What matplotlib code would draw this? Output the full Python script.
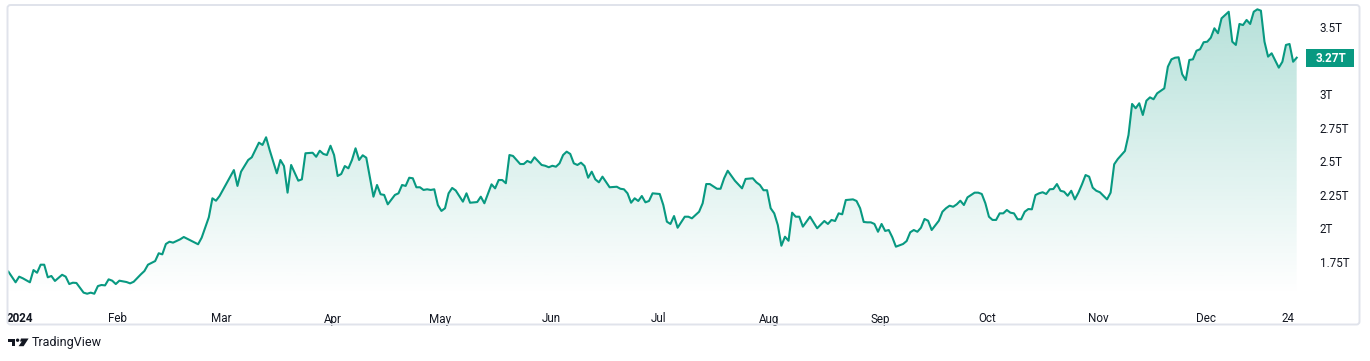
import matplotlib
matplotlib.use("Agg")
import matplotlib.pyplot as plt
import numpy as np
from matplotlib.patches import FancyBboxPatch, Polygon, Circle, Rectangle

# days since 2024-01-01 and total value (trillions)
days = [0, 2, 3, 4, 6, 7, 8, 9, 10, 11, 12, 13, 15, 16, 17, 18, 19, 21, 22, 23, 24, 25, 26, 27, 28, 29, 30,
        31, 33, 34, 35, 37, 38, 39, 41, 42, 43, 44, 45, 46, 48, 49, 53, 54, 56, 57, 58, 59,
        63, 64, 65, 67, 68, 70, 71, 72, 73, 75, 76, 77, 78, 79, 81, 82, 83, 85, 86, 87, 88, 89, 90,
        91, 92, 93, 94, 95, 96, 97, 98, 99, 100, 102, 103, 104, 105, 106, 108, 109, 110, 111, 112,
        113, 114, 115, 116, 117, 118, 119, 120, 121, 122, 123, 124, 125, 127, 128, 129, 131, 132,
        133, 135, 136, 137, 138, 139, 140, 141, 143, 144, 145, 146, 147, 149, 150, 151, 152, 153,
        154, 155, 156, 157, 158, 159, 160, 161, 162, 163, 164, 165, 166, 168, 170, 171, 172, 173,
        174, 175, 176, 177, 178, 179, 180, 182, 183, 184, 185, 186, 187, 189, 190, 191, 193, 194,
        195, 196, 198, 199, 200, 201, 203, 205, 206, 208, 209, 210, 211, 212, 213, 214, 215, 216,
        217, 218, 219, 220, 221, 222, 224, 226, 228, 229, 230, 231, 232, 233, 234, 236, 237, 238,
        239, 240, 241, 242, 243, 244, 245, 246, 247, 248, 250, 251, 252, 253, 254, 255, 256, 257,
        258, 260, 261, 262, 263, 264, 265, 266, 267, 268, 270, 271, 272, 273, 274, 275, 276, 277,
        278, 279, 280, 281, 282, 283, 284, 285, 286, 287, 288, 289, 290, 291, 292, 293, 294, 295,
        296, 297, 298, 299, 300, 301, 302, 303, 304, 305, 307, 308, 309, 310, 312, 313, 314, 315,
        316, 317, 318, 319, 320, 321, 323, 324, 325, 326, 327, 328, 329, 330, 331, 332, 333, 334,
        335, 336, 337, 338, 339, 341, 342, 343, 344, 345, 346, 347, 348, 349, 350, 351, 352, 353,
        355, 356, 357, 358, 359, 360]
values = [1.678, 1.599, 1.641, 1.629, 1.599, 1.690, 1.670, 1.730, 1.730, 1.636, 1.646, 1.609, 1.655, 1.641,
          1.586, 1.596, 1.594, 1.522, 1.514, 1.522, 1.514, 1.571, 1.579, 1.576, 1.621, 1.611, 1.586,
          1.611, 1.601, 1.591, 1.603, 1.658, 1.683, 1.730, 1.757, 1.815, 1.807, 1.884, 1.901, 1.894,
          1.919, 1.936, 1.882, 1.931, 2.083, 2.224, 2.206, 2.241,
          2.434, 2.316, 2.422, 2.509, 2.529, 2.638, 2.621, 2.678, 2.583, 2.410, 2.509, 2.464, 2.266,
          2.472, 2.355, 2.365, 2.559, 2.563, 2.533, 2.578, 2.554, 2.546, 2.615,
          2.546, 2.390, 2.405, 2.464, 2.447, 2.509, 2.596, 2.509, 2.544, 2.526, 2.236, 2.323, 2.254,
          2.249, 2.179, 2.249, 2.261, 2.323, 2.316, 2.377,
          2.373, 2.306, 2.306, 2.286, 2.291, 2.286, 2.291, 2.174, 2.130, 2.150, 2.261, 2.301, 2.282,
          2.199, 2.261, 2.191, 2.196, 2.236,
          2.187, 2.328, 2.298, 2.360, 2.360, 2.336, 2.546, 2.539, 2.479, 2.479, 2.502, 2.489, 2.529,
          2.472, 2.466, 2.455, 2.466, 2.459,
          2.484, 2.546, 2.571, 2.554, 2.484, 2.472, 2.489, 2.464, 2.377, 2.422, 2.365, 2.343, 2.385,
          2.306, 2.310, 2.295, 2.291, 2.261,
          2.191, 2.224, 2.204, 2.241, 2.194, 2.204, 2.261, 2.256, 2.174, 2.050, 2.033, 2.092, 2.005,
          2.087, 2.087, 2.075, 2.124, 2.187,
          2.330, 2.330, 2.295, 2.295, 2.373, 2.429, 2.355, 2.298, 2.368, 2.373, 2.343, 2.323, 2.284,
          2.284, 2.150, 2.112, 2.025, 1.871,
          1.938, 1.908, 2.117, 2.087, 2.087, 2.013, 2.087, 2.001, 2.055, 2.033, 2.063, 2.055, 2.112,
          2.105, 2.211, 2.216, 2.204, 2.150,
          2.048, 2.045, 2.045, 2.033, 1.975, 2.033, 1.981, 1.988, 1.934, 1.864, 1.884, 1.906, 1.971,
          1.988, 1.975, 2.005, 2.070, 2.057,
          1.988, 2.057, 2.124, 2.150, 2.169, 2.161, 2.179, 2.206, 2.174, 2.231, 2.266, 2.266, 2.256,
          2.187, 2.087, 2.063, 2.063, 2.112,
          2.112, 2.137, 2.117, 2.112, 2.068, 2.068, 2.124, 2.144, 2.142, 2.248, 2.261, 2.269, 2.256,
          2.291, 2.293, 2.330, 2.280, 2.273,
          2.243, 2.280, 2.216, 2.266, 2.328, 2.397, 2.385, 2.303, 2.280, 2.269, 2.216, 2.266, 2.477,
          2.516, 2.576, 2.695, 2.926, 2.894,
          2.931, 2.844, 2.950, 2.975, 2.961, 3.005, 3.042, 3.203, 3.258, 3.270, 3.273, 3.147, 3.104,
          3.253, 3.258, 3.322, 3.333, 3.385,
          3.389, 3.419, 3.489, 3.452, 3.563, 3.612, 3.389, 3.365, 3.521, 3.513, 3.551, 3.521, 3.612,
          3.630, 3.620, 3.389, 3.278, 3.303,
          3.196, 3.240, 3.365, 3.372, 3.240, 3.270]

tick_days = [0, 31, 60, 91, 121, 152, 182, 213, 244, 274, 305, 335, 358]
tick_labels = ["2024", "Feb", "Mar", "Apr", "May", "Jun", "Jul", "Aug", "Sep", "Oct", "Nov", "Dec", "24"]
price_ticks = [1.75, 2.0, 2.25, 2.5, 2.75, 3.0, 3.5]
price_labels = ["1.75T", "2T", "2.25T", "2.5T", "2.75T", "3T", "3.5T"]
last_label = "3.27T"

plt.rcParams["font.family"] = ["Roboto", "DejaVu Sans"]
GREEN = "#089981"
TEXT = "#131722"

W, H = 1370, 361
fig = plt.figure(figsize=(W / 100, H / 100), dpi=100)
fig.patch.set_facecolor("white")

# plot pane: x 7..1306 px, y 4..300 px
ax = fig.add_axes([7 / W, (H - 300) / H, (1306 - 7) / W, 296 / H])
ax.set_facecolor("none")
x0, x1 = -0.28, 362.6
y0, y1 = 1.4673, 3.6696
ax.set_xlim(x0, x1)
ax.set_ylim(y0, y1)

ax.plot(days, values, color=GREEN, lw=1.5, zorder=3, solid_joinstyle="round")

# gradient fill under the line, fading out just above the pane bottom
poly = ax.fill_between(days, values, y0, color="none", lw=0)
path = poly.get_paths()[0]
n = 256
frac = np.linspace(0, 1, n)
alpha = np.clip((frac - 0.015) / 0.985, 0, 1) * 0.30
img = np.zeros((n, 1, 4))
img[:, 0, 0] = 8 / 255
img[:, 0, 1] = 153 / 255
img[:, 0, 2] = 129 / 255
img[:, 0, 3] = alpha
im = ax.imshow(img, extent=[x0, x1, y0, y1], origin="lower", aspect="auto", zorder=2)
clip = Polygon(path.vertices, closed=True, transform=ax.transData)
im.set_clip_path(clip)

for s in ax.spines.values():
    s.set_visible(False)

ax.set_xticks(np.array(tick_days) - 0.4, tick_labels)
ax.tick_params(axis="x", length=0, pad=9, labelsize=8.4, labelcolor=TEXT)
xl = ax.get_xticklabels()
xl[0].set_ha("left")
xl[0].set_fontweight("bold")

ax.yaxis.tick_right()
ax.set_yticks(price_ticks, price_labels)
ax.tick_params(axis="y", length=0, pad=10, labelsize=8.4, labelcolor=TEXT)
for t in ax.get_yticklabels():
    t.set_ha("left")

# overlay in pixel coordinates for frame, badge and logo
ov = fig.add_axes([0, 0, 1, 1])
ov.set_xlim(0, W)
ov.set_ylim(H, 0)
ov.axis("off")
ov.set_zorder(5)

ov.add_patch(FancyBboxPatch((7.5, 5), 1352, 319.5, boxstyle="round,pad=0,rounding_size=3",
                            fc="none", ec="#e0e3eb", lw=1.4))

# last value badge
_, ypx = ax.transData.transform((0, values[-1]))
ypx = H - ypx
ov.add_patch(Rectangle((1306, ypx - 9.2), 48, 18.4, fc=GREEN, ec="none"))
ov.text(1316, ypx + 0.5, last_label, color="white", fontsize=8.4, fontweight="bold",
        ha="left", va="center")

# TradingView logo and name
ov.add_patch(Polygon([(8.3, 338.5), (15.2, 338.5), (15.2, 346.2), (11.8, 346.2), (11.8, 341.7),
                      (8.3, 341.7)], closed=True, fc=TEXT, ec="none"))
ov.add_patch(Circle((17.6, 340.2), 1.7, fc=TEXT, ec="none"))
ov.add_patch(Polygon([(21.0, 338.5), (28.6, 338.5), (23.6, 346.2), (18.6, 346.2), (21.8, 341.5),
                      (20.0, 341.5)], closed=True, fc=TEXT, ec="none"))
ov.text(31.5, 342.8, "TradingView", color=TEXT, fontsize=9, ha="left", va="center")

fig.savefig("out.png", dpi=100, facecolor="white")
